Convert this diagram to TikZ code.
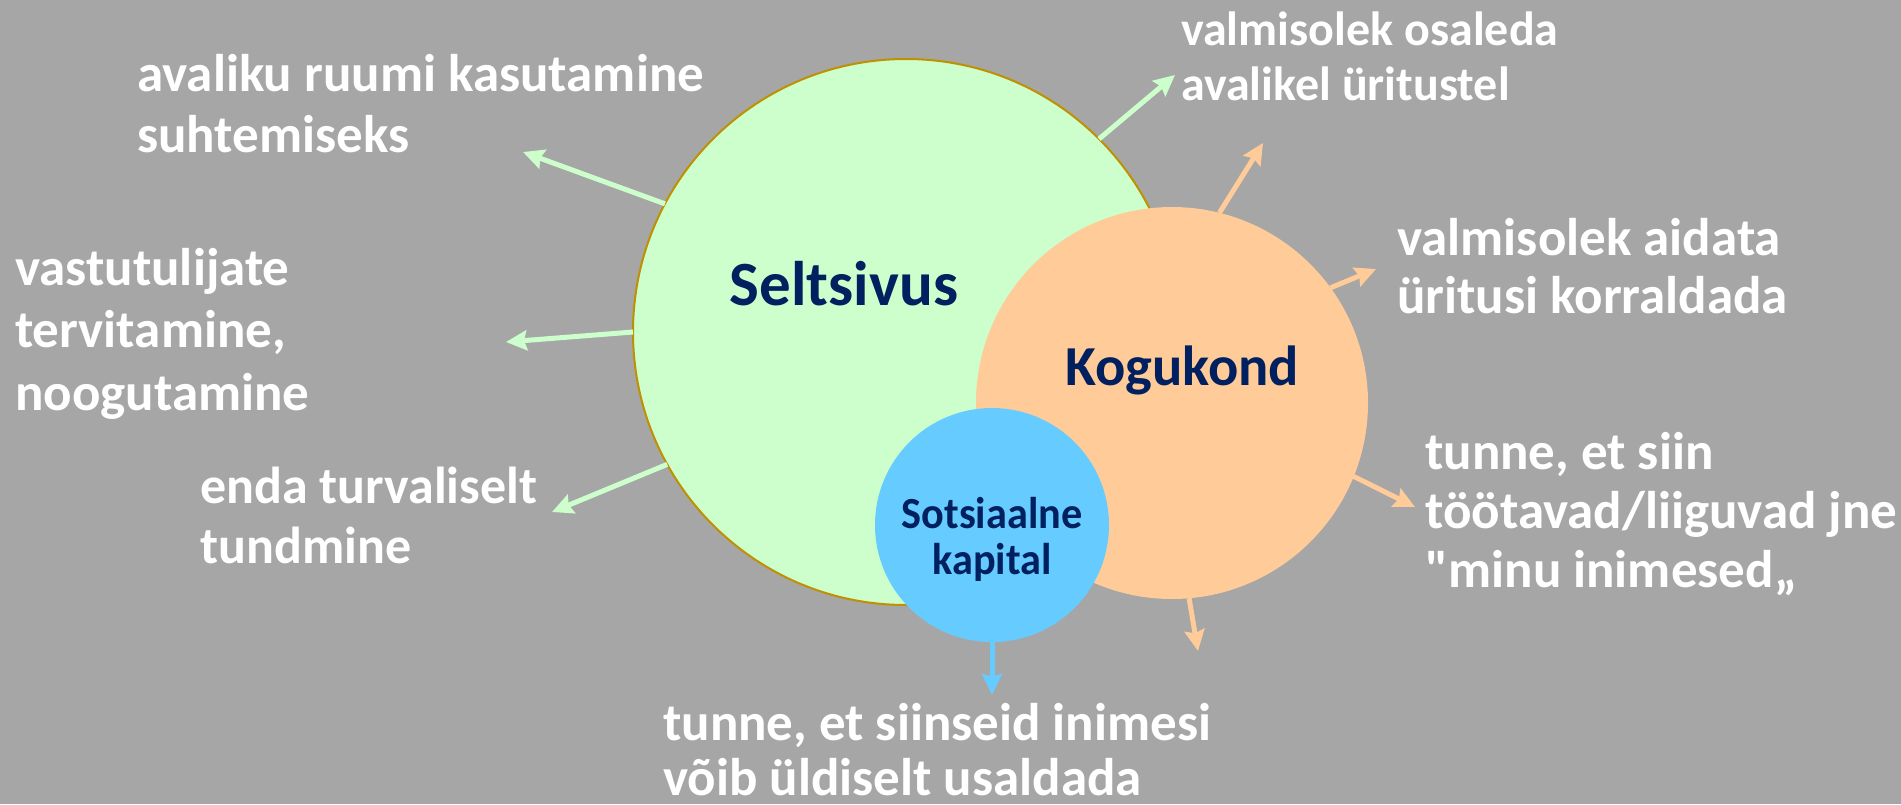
\documentclass[tikz,border=0pt]{standalone}
\usepackage{fontspec}
\setmainfont{Carlito}
\newfontfamily\labfont{Carlito}
\newfontfamily\narrowfont[FakeStretch=0.95]{Carlito}
\usetikzlibrary{arrows.meta}
\definecolor{bg}{RGB}{166,166,166}
\definecolor{gfill}{RGB}{204,255,204}
\definecolor{ofill}{RGB}{255,204,153}
\definecolor{bfill}{RGB}{102,204,255}
\definecolor{gedge}{RGB}{191,144,0}
\definecolor{navy}{RGB}{0,32,96}
\tikzset{
  disc/.style={circle, inner sep=0pt, outer sep=0pt},
  arr/.style={line width=5pt, -{Stealth[length=21pt,width=20pt,inset=3pt]}},
  lab/.style={anchor=base west, inner sep=0pt, align=left, text=white,
    font=\labfont\bfseries\fontsize{53}{#1}\selectfont},
  lab/.default=58,
  title/.style={anchor=base, inner sep=0pt, align=center, text=navy}
}
\begin{document}
\begin{tikzpicture}[x=1pt,y=-1pt]
\fill[bg] (0,0) rectangle (1901,804);
\useasboundingbox (0,0) rectangle (1901,804);
% circles
\node[disc, minimum size=546pt, fill=gfill, draw=gedge, line width=2pt] (sel) at (906,332) {};
\node[disc, minimum size=392pt, fill=ofill] (kog) at (1172,403) {};
\node[disc, minimum size=234pt, fill=bfill] (sot) at (992,525) {};
% titles (anchor base = last line)
\node[title, font=\labfont\bfseries\fontsize{63}{70}\selectfont] (tsel) at (844,305) {Seltsivus};
\node[title, font=\labfont\bfseries\fontsize{56.5}{60}\selectfont] (tkog) at (1182,385) {Kogukond};
\node[title, font=\narrowfont\bfseries\fontsize{44.5}{46}\selectfont] (tsot) at (992,574) {Sotsiaalne\\kapital};
% labels (anchor base = last line)
\node[lab=61] (l1) at (137,152) {avaliku ruumi kasutamine\\suhtemiseks};
\node[lab=62.5] (l2) at (15,410) {vastutulijate\\tervitamine,\\noogutamine};
\node[lab=60, font=\labfont\bfseries\fontsize{52}{60}\selectfont] (l3) at (200,563) {enda turvaliselt\\tundmine};
\node[lab=55] (l4) at (663,795) {tunne, et siinseid inimesi\\võib üldiselt usaldada};
\node[lab=55, font=\labfont\bfseries\fontsize{48}{55}\selectfont] (l5) at (1181,100) {valmisolek osaleda\\avalikel üritustel};
\node[lab=58] (l6) at (1397,313) {valmisolek aidata\\üritusi korraldada};
\node[lab=59] (l7) at (1425,587) {tunne, et siin\\töötavad/liiguvad jne\\"minu inimesed„};
% arrow tips
\coordinate (t1) at (523,152);
\coordinate (t2) at (506,342);
\coordinate (t3) at (552,512);
\coordinate (t4) at (1175,75);
\coordinate (t5) at (1263,143);
\coordinate (t6) at (1376,269);
\coordinate (t7) at (1415,507);
\coordinate (t8) at (1198,651);
\coordinate (t9) at (992,695);
% arrows
\draw[arr, gfill] (sel.152.6) -- (t1);
\draw[arr, gfill] (sel.180) -- (t2);
\draw[arr, gfill] (sel.209.4) -- (t3);
\draw[arr, gfill] (sel.45.5) -- (t4);
\draw[arr, ofill] (kog.76.3) -- (t5);
\draw[arr, ofill] (kog.36.9) -- (t6);
\draw[arr, ofill] (kog.-22.1) -- (t7);
\draw[arr, ofill] (kog.-85) -- (t8);
\draw[arr, bfill] (sot.-90) -- (t9);
\end{tikzpicture}
\end{document}
